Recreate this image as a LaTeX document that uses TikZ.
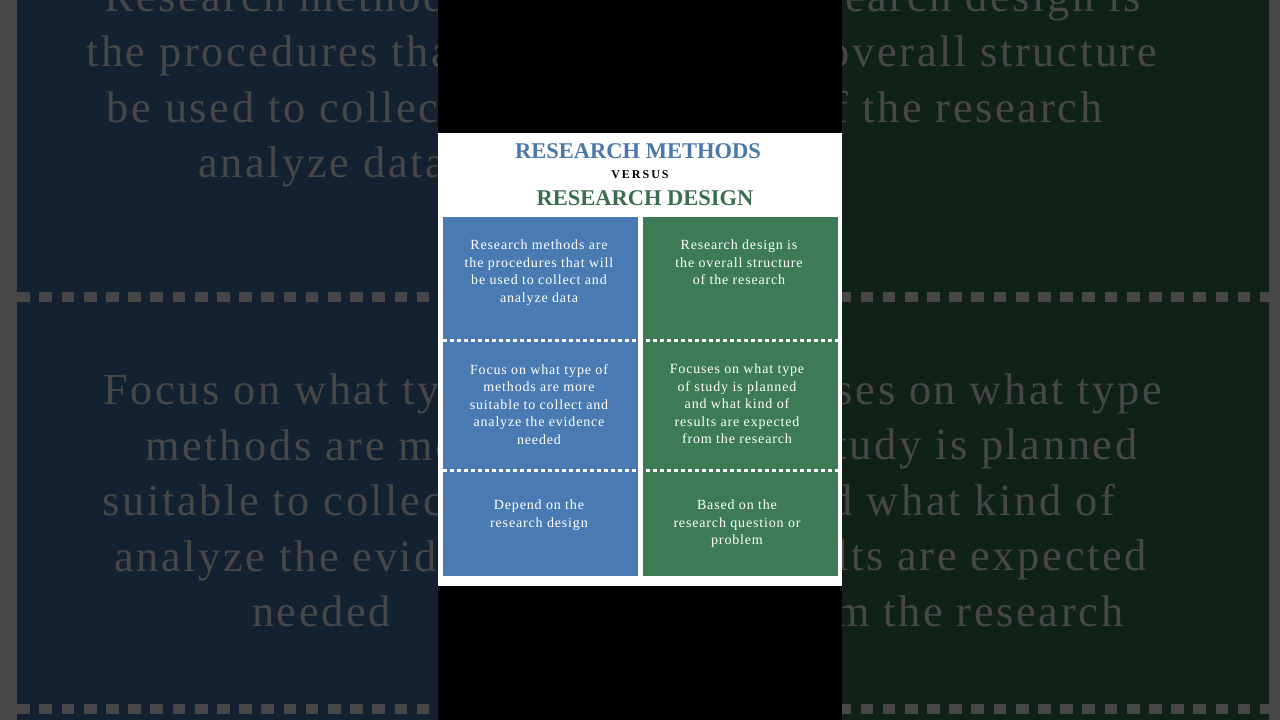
\documentclass[tikz,border=0pt]{standalone}
\usepackage{fontspec}
\setmainfont{Liberation Serif}
\newfontfamily\cellfont[LetterSpace=6]{Liberation Serif}
\definecolor{pblue}{HTML}{4A7AB2}
\definecolor{pgreen}{HTML}{3D7A56}
\definecolor{tblue}{HTML}{4A78AA}
\definecolor{tgreen}{HTML}{3A6E4E}
\tikzset{
  celltext/.style={text=white,align=center,font=\cellfont\fontsize{14}{17.5}\selectfont,anchor=north,inner sep=0pt},
  titletext/.style={font=\fontsize{22.5}{24}\selectfont\bfseries,inner sep=0pt}
}
\newcommand\infog[1]{%
  \fill[white] (438,133) rectangle (842,586);
  \node[titletext,text=tblue] (t1) at (638,151) {RESEARCH METHODS};
  \node[inner sep=0pt,font=\fontsize{12}{12}\selectfont\bfseries] (t2) at (640,175) {V\,E\,R\,S\,U\,S};
  \node[titletext,text=tgreen] (t3) at (645,198) {RESEARCH DESIGN};
  \fill[pblue] (443,217) rectangle (638,576);
  \fill[pgreen] (643,217) rectangle (838,576);
  \draw[white,line width=3*#1 pt,dash pattern=on 4*#1 pt off 3*#1 pt] (443,340) -- (838,340);
  \draw[white,line width=3*#1 pt,dash pattern=on 4*#1 pt off 3*#1 pt] (443,470) -- (838,470);
  \node[celltext] (a1) at (539,240) {Research methods are\\the procedures that will\\be used to collect and\\analyze data};
  \node[celltext] (b1) at (739,240) {Research design is\\the overall structure\\of the research};
  \node[celltext] (a2) at (539,364) {Focus on what type of\\methods are more\\suitable to collect and\\analyze the evidence\\needed};
  \node[celltext] (b2) at (737,364) {Focuses on what type\\of study is planned\\and what kind of\\results are expected\\from the research};
  \node[celltext] (a3) at (539,500) {Depend on the\\research design};
  \node[celltext] (b3) at (737,500) {Based on the\\research question or\\problem};
}
\begin{document}
\begin{tikzpicture}[x=1pt,y=-1pt]
\useasboundingbox (0,0) rectangle (1280,720);
\begin{scope}
\clip (0,0) rectangle (1280,720);
\fill[white] (0,0) rectangle (1280,720);
\begin{scope}[shift={(-1387,-781)},scale=3.17,transform shape]
\infog{3.17}
\end{scope}
\fill[black,opacity=0.72] (0,0) rectangle (1280,720);
\end{scope}
\fill[black] (438,0) rectangle (842,720);
\infog{1}
\end{tikzpicture}
\end{document}
